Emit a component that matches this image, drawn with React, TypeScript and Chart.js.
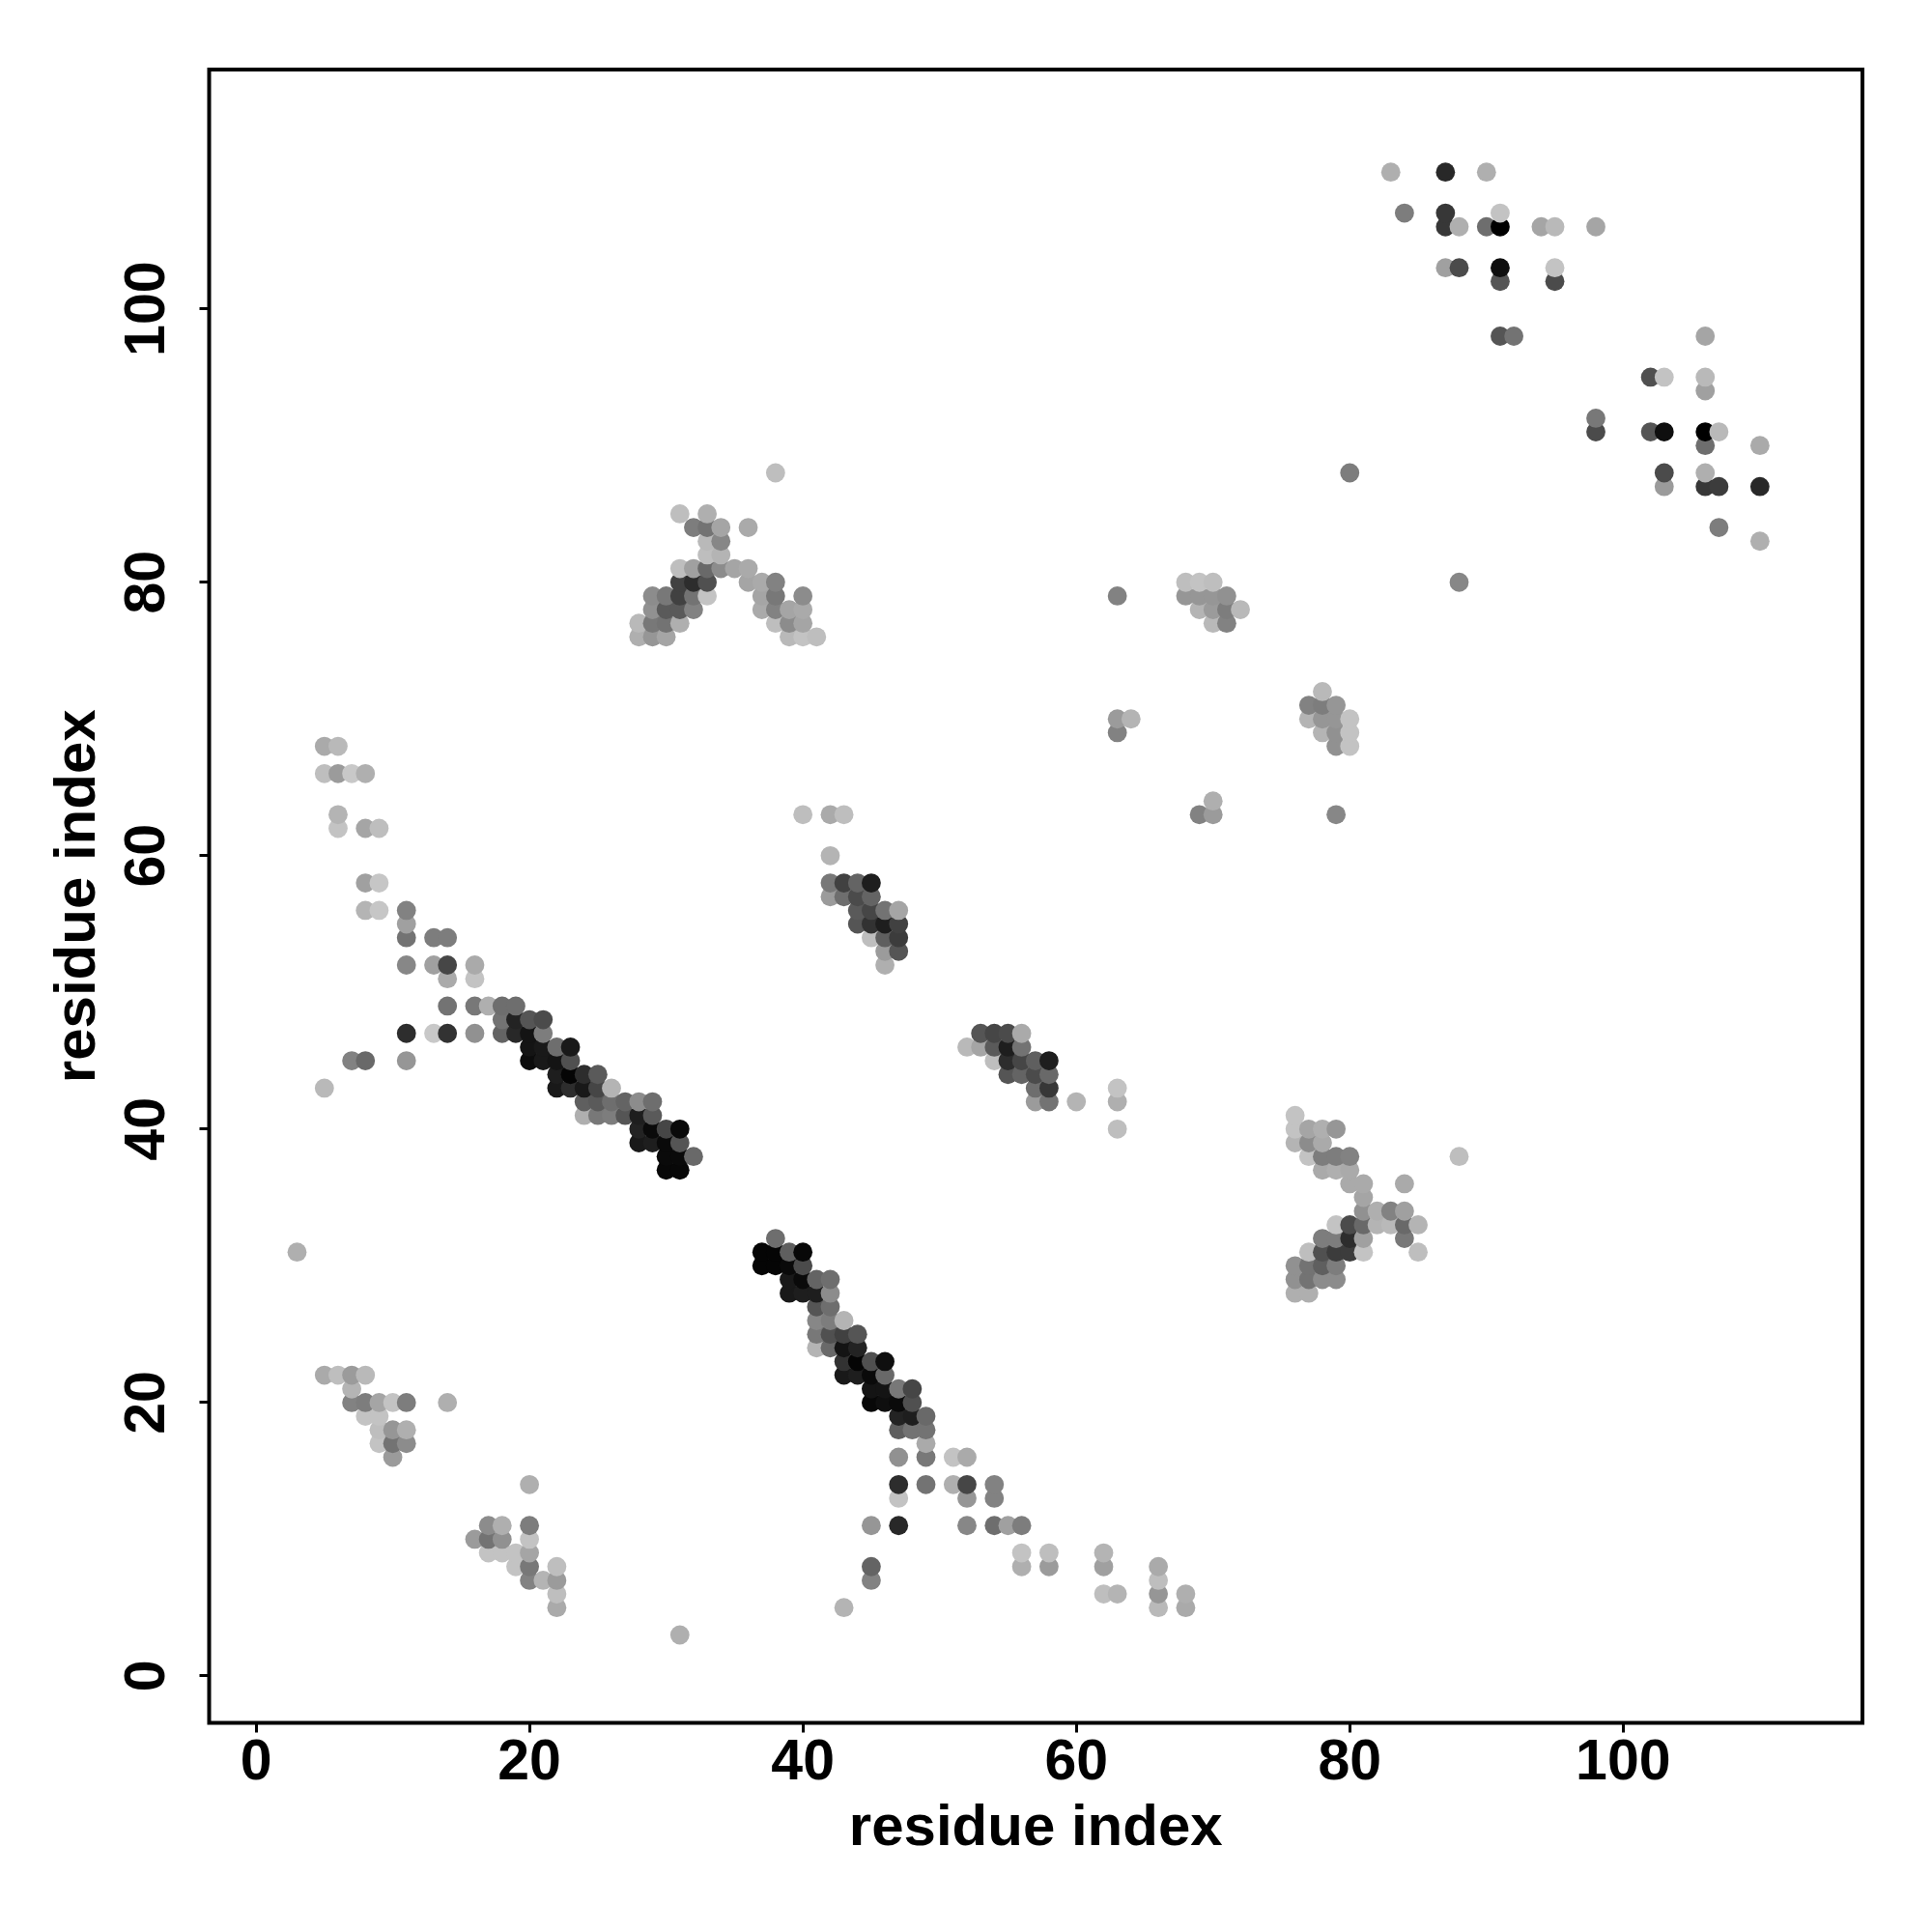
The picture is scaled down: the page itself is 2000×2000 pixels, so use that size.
import React, { useEffect, useRef } from "react";
import { Chart, registerables } from "chart.js";

Chart.register(...registerables);

// Each entry is [residue x, residue y, grey level 0-255]
const cornerLeft = [[3,31,175],[5,22,170],[6,22,190],[7,22,155],[8,22,185],[7,21,180],[7,20,130],[8,20,125],[9,20,165],[10,20,195],[11,20,125],[14,20,175],[8,19,195],[9,19,195],[9,18,190],[10,18,150],[11,18,175],[9,17,195],[10,17,115],[11,17,140],[10,16,155]];
const cornerLow = [[20,14,175],[17,11,140],[18,11,175],[20,11,125],[16,10,155],[17,10,115],[18,10,145],[20,10,195],[17,9,195],[18,9,195],[19,9,195],[20,9,165],[19,8,195],[20,8,120],[22,8,190],[20,7,130],[21,7,180],[22,7,155],[22,6,190],[22,5,170],[31,3,175]];
const stripLeft = [[5,68,170],[6,68,185],[5,66,190],[6,66,155],[7,66,200],[8,66,175],[6,63,180],[6,62,195],[8,62,165],[9,62,190],[8,58,160],[9,58,198],[8,56,180],[9,56,198],[11,56,130],[11,55,160],[11,54,115],[13,54,125],[14,54,125],[11,52,135],[13,52,160],[14,52,70],[16,52,170],[14,51,170],[16,51,195],[14,49,115],[16,49,120],[7,45,130],[8,45,105],[11,45,150],[11,47,45],[13,47,200],[14,47,50],[16,47,145],[5,43,185]];
const helixUpper = [[17,49,175],[18,49,110],[19,49,110],[18,48,115],[19,48,35],[20,48,85],[21,48,75],[18,47,100],[19,47,40],[20,47,20],[21,47,125],[20,46,20],[21,46,25],[22,46,110],[23,46,25],[20,45,12],[21,45,25],[22,45,20],[23,45,80],[22,44,30],[23,44,5],[24,44,45],[25,44,90],[22,43,25],[23,43,45],[24,43,25],[25,43,70],[26,43,180],[24,42,95],[25,42,90],[26,42,110],[27,42,100],[28,42,140],[29,42,110],[24,41,175],[25,41,120],[26,41,125],[27,41,85],[28,41,30],[29,41,90],[28,40,35],[29,40,10],[30,40,70],[31,40,10],[28,39,25],[29,39,30],[30,39,10],[31,39,85],[30,38,10],[31,38,10],[32,38,105],[30,37,8],[31,37,8]];
const helixLower = [[38,32,110],[37,31,5],[38,31,5],[39,31,95],[40,31,8],[37,30,5],[38,30,5],[39,30,10],[40,30,75],[39,29,25],[40,29,10],[41,29,100],[42,29,110],[39,28,25],[40,28,30],[41,28,30],[42,28,140],[41,27,85],[42,27,110],[41,26,135],[42,26,125],[43,26,180],[41,25,120],[42,25,80],[43,25,65],[44,25,85],[41,24,180],[42,24,105],[43,24,20],[44,24,35],[43,23,50],[44,23,5],[45,23,80],[46,23,15],[43,22,25],[44,22,30],[45,22,10],[46,22,105],[45,21,20],[46,21,20],[47,21,120],[48,21,70],[45,20,8],[46,20,15],[47,20,10],[48,20,80],[47,19,35],[48,19,30],[49,19,105],[47,18,95],[48,18,115],[49,18,115],[49,17,170]];
const tailLower = [[47,16,145],[49,16,120],[51,16,195],[52,16,170],[47,14,45],[49,14,115],[51,14,175],[52,14,70],[54,14,130],[47,13,195],[52,13,150],[54,13,130],[45,11,150],[47,11,40],[52,11,135],[54,11,110],[55,11,160],[56,11,125],[56,9,195],[58,9,190],[62,9,180],[45,8,100],[56,8,175],[58,8,155],[62,8,160],[66,8,170],[45,7,130],[66,7,190],[62,6,190],[63,6,180],[66,6,150],[68,6,175],[43,5,180],[66,5,185],[68,5,170]];
const peakUpper = [[38,88,190],[31,85,190],[33,85,175],[32,84,125],[33,84,115],[34,84,165],[36,84,170],[33,83,185],[34,83,135],[33,82,190],[34,82,180],[31,81,190],[32,81,160],[33,81,105],[34,81,140],[35,81,165],[36,81,170],[31,80,65],[32,80,45],[33,80,80],[36,80,165],[37,80,170],[38,80,130],[29,79,140],[30,79,120],[31,79,65],[32,79,115],[33,79,195],[37,79,165],[38,79,120],[40,79,140],[29,78,145],[30,78,90],[31,78,90],[32,78,130],[37,78,170],[38,78,130],[39,78,165],[40,78,170],[28,77,185],[29,77,120],[30,77,115],[31,77,175],[38,77,190],[39,77,140],[40,77,165],[28,76,175],[29,76,150],[30,76,165],[39,76,185],[40,76,195],[41,76,190]];
const patchMiddle = [[40,63,190],[42,63,170],[43,63,190],[42,60,180],[42,58,120],[43,58,65],[44,58,100],[45,58,30],[42,57,155],[43,57,110],[44,57,75],[45,57,100],[44,56,90],[45,56,70],[46,56,115],[47,56,165],[44,55,85],[45,55,50],[46,55,30],[47,55,65],[45,54,190],[46,54,95],[47,54,60],[46,53,155],[47,53,85],[46,52,175]];
const patchCentre = [[53,47,85],[54,47,70],[55,47,75],[56,47,170],[52,46,185],[53,46,165],[54,46,90],[55,46,30],[56,46,115],[54,45,190],[55,45,45],[56,45,70],[57,45,95],[58,45,30],[55,44,85],[56,44,100],[57,44,75],[58,44,105],[57,43,110],[58,43,55],[63,43,195],[57,42,155],[58,42,115],[60,42,180],[63,42,175],[63,40,190]];
const wingRight = [[76,41,195],[76,40,195],[77,40,165],[78,40,175],[79,40,150],[76,39,180],[77,39,140],[78,39,170],[77,38,195],[78,38,125],[79,38,125],[80,38,130],[88,38,190],[78,37,170],[79,37,175],[80,37,170],[80,36,170],[81,36,170],[84,36,170],[81,35,165],[81,34,145],[82,34,175],[83,34,130],[84,34,160],[79,33,195],[80,33,75],[81,33,105],[82,33,180],[83,33,185],[84,33,105],[85,33,180],[78,32,125],[79,32,125],[80,32,45],[81,32,160],[84,32,120],[77,31,190],[78,31,80],[79,31,60],[80,31,60],[81,31,195],[85,31,190],[76,30,145],[77,30,115],[78,30,95],[79,30,125],[76,29,145],[77,29,115],[78,29,140],[79,29,140],[76,28,175],[77,28,175]];
const sheetUpper = [[68,80,190],[69,80,195],[70,80,190],[63,79,130],[68,79,150],[69,79,150],[70,79,150],[71,79,145],[69,78,180],[70,78,155],[71,78,125],[72,78,185],[70,77,185],[71,77,130],[78,72,185],[77,71,130],[78,71,125],[79,71,150],[77,70,180],[78,70,150],[79,70,150],[80,70,195],[63,70,155],[64,70,180],[63,69,130],[78,69,180],[79,69,145],[80,69,195],[79,68,145],[80,68,195],[70,64,175],[69,63,130],[70,63,155],[79,63,135]];
const cornerTop = [[83,110,175],[87,110,40],[90,110,175],[84,107,125],[87,107,55],[91,107,195],[87,106,55],[88,106,175],[90,106,110],[91,106,0],[94,106,165],[95,106,185],[98,106,165],[87,103,160],[88,103,75],[91,103,15],[95,103,195],[91,102,85],[95,102,75],[91,98,85],[92,98,115],[106,98,165],[102,95,80],[103,95,195],[106,95,185],[106,94,160],[98,92,120],[98,91,75],[102,91,85],[103,91,15],[106,91,0],[107,91,185],[106,90,110],[110,90,170],[80,88,125],[103,88,75],[106,88,175],[103,87,155],[106,87,55],[107,87,60],[110,87,40],[107,84,125],[110,83,175],[88,80,135]];

const tickValues = [0, 20, 40, 60, 80, 100];
const axisTitle = "residue index";
const axisMin = -3.43;
const axisMax = 117.5;

const allPoints = [
  ...cornerLeft, ...cornerLow, ...stripLeft, ...helixUpper, ...helixLower, ...tailLower,
  ...peakUpper, ...patchMiddle, ...patchCentre, ...wingRight, ...sheetUpper, ...cornerTop,
].sort((a, b) => a[0] - b[0] || a[1] - b[1]);

const FONT = "'Liberation Sans', Arial, sans-serif";

const framePlugin = {
  id: "frame",
  afterDatasetsDraw(chart: any) {
    const { ctx, chartArea: a } = chart;
    ctx.save();
    ctx.strokeStyle = "#000";
    ctx.lineWidth = 4;
    ctx.strokeRect(a.left, a.top, a.right - a.left, a.bottom - a.top);
    ctx.restore();
  },
};

function axis(isX: boolean) {
  return {
    type: "linear",
    min: axisMin,
    max: axisMax,
    afterBuildTicks: (s: any) => {
      s.ticks = tickValues.map((value) => ({ value }));
    },
    afterFit: (s: any) => {
      if (isX) s.height = 216.5;
      else s.width = 216.5;
    },
    border: { display: false },
    grid: { drawOnChartArea: false, drawTicks: true, tickLength: 10, tickWidth: 3, tickColor: "#000" },
    ticks: {
      autoSkip: false,
      color: "#000",
      padding: isX ? -3 : 3.5,
      font: { family: FONT, weight: "bold", size: 59 },
      minRotation: isX ? 0 : 90,
      maxRotation: isX ? 0 : 90,
      crossAlign: isX ? "near" : "center",
    },
    title: {
      display: true,
      text: axisTitle,
      color: "#000",
      padding: isX ? { top: 0, bottom: 71 } : { top: 45, bottom: 0 },
      font: { family: FONT, weight: "bold", size: 60 },
    },
  };
}

export default function App() {
  const ref = useRef<HTMLCanvasElement | null>(null);
  useEffect(() => {
    const chart = new Chart(ref.current as HTMLCanvasElement, {
      type: "scatter",
      data: {
        datasets: [
          {
            data: allPoints.map((p) => ({ x: p[0], y: p[1] })),
            pointRadius: 9.9,
            pointBorderWidth: 0,
            pointBackgroundColor: allPoints.map((p) => `rgb(${p[2]},${p[2]},${p[2]})`),
          },
        ],
      },
      options: {
        responsive: false,
        animation: false,
        devicePixelRatio: 1,
        layout: { padding: { top: 72, right: 72, left: 0, bottom: 0 } },
        plugins: { legend: { display: false }, tooltip: { enabled: false } },
        scales: { x: axis(true), y: axis(false) },
      },
      plugins: [framePlugin],
    } as any);
    return () => chart.destroy();
  }, []);
  return (
    <div style={{ position: "absolute", left: 0, top: 0, width: 2000, height: 2000, background: "#fff" }}>
      <canvas ref={ref} width={2000} height={2000} style={{ display: "block" }} />
    </div>
  );
}
